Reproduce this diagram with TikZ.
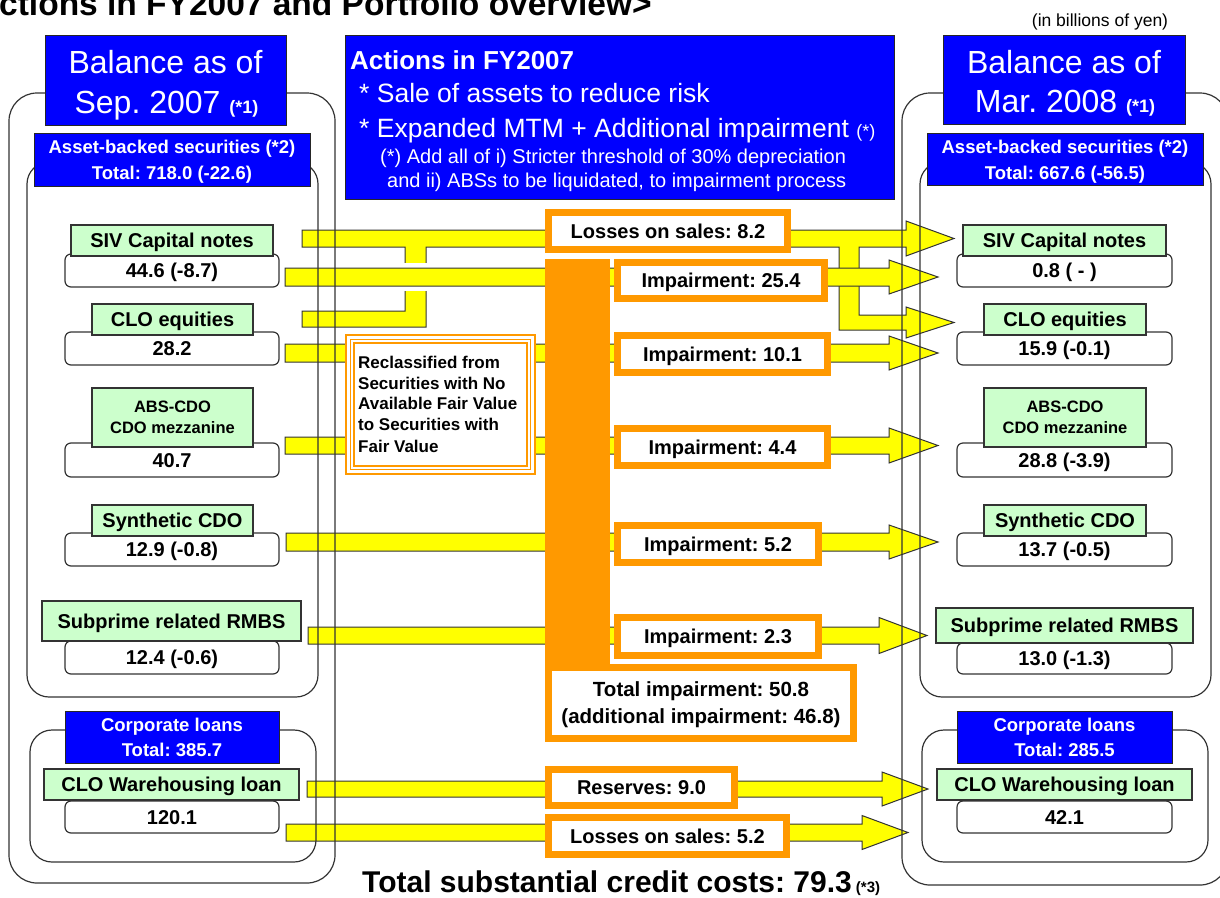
\documentclass[tikz,border=0pt]{standalone}
\usepackage{fontspec}
\setmainfont{Liberation Sans}
\usetikzlibrary{calc}
\frenchspacing
\definecolor{bblue}{HTML}{0000FF}
\definecolor{lgreen}{HTML}{CCFFCC}
\definecolor{orng}{HTML}{FF9900}
\definecolor{yel}{HTML}{FFFF00}
\definecolor{lin}{HTML}{333333}
\newcommand\fs[1]{\fontsize{#1}{#1}\selectfont\frenchspacing}
\newcommand\bxt[7]{\node[#1, minimum width={(#5)-(#3)}, minimum height={(#6)-(#4)}] (#2) at ({((#3)+(#5))/2},{((#4)+(#6))/2}) {#7};}
\newcommand\obx[6]{\bxt{obox}{#1}{(#2)+3.5}{(#3)+3.5}{(#4)-3.5}{(#5)-3.5}{#6}}
\newcommand\yarrow[6]{\filldraw[yarr] (#1,{#2-#5}) -- (#3,{#2-#5}) -- (#3,{#2-#6}) -- (#4,#2) -- (#3,{#2+#6}) -- (#3,{#2+#5}) -- (#1,{#2+#5}) -- cycle;}
\tikzset{
 base/.style={inner sep=0pt, outer sep=0pt},
 vbox/.style={base, draw=lin, line width=1.2pt, fill=white, rounded corners=6pt, font=\fs{20}\bfseries, text height=14.4pt, text depth=0pt},
 gbox/.style={base, draw=lin, line width=1.2pt, fill=lgreen, font=\fs{20}\bfseries, text height=14.4pt, text depth=0pt},
 bbox/.style={base, draw=black!85, line width=1pt, fill=bblue},
 obox/.style={base, draw=orng, line width=7pt, fill=white, font=\fs{20}\bfseries, text height=14.4pt, text depth=0pt},
 frameA/.style={draw=lin, line width=1.2pt, rounded corners=28pt},
 frameB/.style={draw=lin, line width=1.2pt, rounded corners=22pt},
 yarr/.style={fill=yel, draw=lin, line width=1pt},
 tw/.style={anchor=base, inner sep=0pt, text=white},
 tk/.style={anchor=base, inner sep=0pt, text=black},
}
\begin{document}
\begin{tikzpicture}[x=1pt,y=-1pt]
\useasboundingbox (0,0) rectangle (1220,897);

% title and unit
\node[anchor=base west, inner sep=0pt, font=\fs{33.5}\bfseries] (title) at (-1,15) {ctions in FY2007 and Portfolio overview>};
\node[tk, font=\fs{17.5}] (unit) at (1100,26) {(in billions of yen)};

% yellow block arrows
\filldraw[yarr] (302,230) -- (906,230) -- (906,221) -- (954,238.5) -- (906,256) -- (906,247) -- (859,247) -- (859,315) -- (906,315) -- (906,307) -- (954,322.5) -- (906,338) -- (906,330) -- (839,330) -- (839,247) -- (426,247) -- (426,327) -- (302,327) -- (302,311) -- (405,311) -- (405,247) -- (302,247) -- cycle;
\fill[white] (401,263) rectangle (430,291);
\yarrow{285}{277}{889}{938}{9}{17}
\yarrow{285}{353}{889}{938}{9}{17}
\yarrow{285}{445.5}{889}{938}{8.5}{17.5}
\yarrow{286}{542}{889}{938}{9}{17}
\yarrow{308}{635.5}{879}{927}{8.5}{18}
\yarrow{307}{789}{882}{928}{8}{17}
\yarrow{286}{832.5}{862}{908}{8.5}{17}

% column frames
\draw[frameA] (9,93) rectangle (335,883);
\draw[frameB] (27,162) rectangle (318,697);
\draw[frameB] (30,730) rectangle (316,862);
\draw[frameA] (902,93) rectangle (1228,885);
\draw[frameB] (920,162) rectangle (1211,697);
\draw[frameB] (922,730) rectangle (1208,862);

% left headers
\bxt{bbox}{balL}{45}{35}{286}{125}{}
\node[tw, font=\fs{32}] (balL1) at (165.5,73.5) {Balance as of};
\node[tw, font=\fs{32}] (balL2) at (166.5,113.5) {Sep. 2007 {\fs{18}\bfseries(*1)}};
\bxt{bbox}{absL}{34}{133}{310}{186}{}
\node[tw, font=\fs{18.5}\bfseries] (absL1) at (172,153.7) {Asset-backed securities (*2)};
\node[tw, font=\fs{18.5}\bfseries] (absL2) at (172,179.7) {Total: 718.0 (-22.6)};
\bxt{bbox}{corL}{65}{711}{279}{763}{}
\node[tw, font=\fs{18.5}\bfseries] (corL1) at (172,731.7) {Corporate loans};
\node[tw, font=\fs{18.5}\bfseries] (corL2) at (172,756.7) {Total: 385.7};

% right headers
\bxt{bbox}{balR}{943}{35}{1185}{124}{}
\node[tw, font=\fs{32}] (balR1) at (1064,73.5) {Balance as of};
\node[tw, font=\fs{32}] (balR2) at (1065,112) {Mar. 2008 {\fs{18}\bfseries(*1)}};
\bxt{bbox}{absR}{927}{133}{1203}{185}{}
\node[tw, font=\fs{18.5}\bfseries] (absR1) at (1065,153.7) {Asset-backed securities (*2)};
\node[tw, font=\fs{18.5}\bfseries] (absR2) at (1065,179.7) {Total: 667.6 (-56.5)};
\bxt{bbox}{corR}{957}{711}{1172}{763}{}
\node[tw, font=\fs{18.5}\bfseries] (corR1) at (1064.5,731.7) {Corporate loans};
\node[tw, font=\fs{18.5}\bfseries] (corR2) at (1064.5,756.7) {Total: 285.5};

% left items
\bxt{vbox}{v1L}{65}{254}{279}{287}{44.6 (-8.7)}
\bxt{gbox}{g1L}{71}{225}{273}{256}{SIV Capital notes}
\bxt{vbox}{v2L}{65}{332}{279}{365}{28.2}
\bxt{gbox}{g2L}{92}{304}{253}{335}{CLO equities}
\bxt{vbox}{v3L}{65}{443}{279}{477}{40.7}
\bxt{gbox}{g3L}{92}{388}{253}{447}{}
\node[tk, font=\fs{16.5}\bfseries] (g3La) at (172.5,412) {ABS-CDO};
\node[tk, font=\fs{16.5}\bfseries] (g3Lb) at (172.5,433) {CDO mezzanine};
\bxt{vbox}{v4L}{65}{533}{279}{566}{12.9 (-0.8)}
\bxt{gbox}{g4L}{92}{505}{253}{536}{Synthetic CDO}
\bxt{vbox}{v5L}{65}{641}{279}{674}{12.4 (-0.6)}
\bxt{gbox}{g5L}{42}{601}{301}{641}{Subprime related RMBS}
\bxt{vbox}{v6L}{65}{801}{279}{833}{120.1}
\bxt{gbox}{g6L}{44}{769}{299}{800}{CLO Warehousing loan}

% right items
\bxt{vbox}{v1R}{957}{254}{1172}{287}{0.8 ( - )}
\bxt{gbox}{g1R}{963}{225}{1166}{256}{SIV Capital notes}
\bxt{vbox}{v2R}{957}{332}{1172}{365}{15.9 (-0.1)}
\bxt{gbox}{g2R}{984}{304}{1146}{335}{CLO equities}
\bxt{vbox}{v3R}{957}{443}{1172}{477}{28.8 (-3.9)}
\bxt{gbox}{g3R}{984}{388}{1146}{447}{}
\node[tk, font=\fs{16.5}\bfseries] (g3Ra) at (1065,412) {ABS-CDO};
\node[tk, font=\fs{16.5}\bfseries] (g3Rb) at (1065,433) {CDO mezzanine};
\bxt{vbox}{v4R}{957}{533}{1172}{566}{13.7 (-0.5)}
\bxt{gbox}{g4R}{984}{505}{1146}{536}{Synthetic CDO}
\bxt{vbox}{v5R}{957}{643}{1172}{674}{13.0 (-1.3)}
\bxt{gbox}{g5R}{936}{608}{1193}{643}{Subprime related RMBS}
\bxt{vbox}{v6R}{957}{801}{1172}{833}{42.1}
\bxt{gbox}{g6R}{937}{769}{1192}{800}{CLO Warehousing loan}

% orange items
\bxt{base, fill=orng}{obar}{545}{259}{610}{664}{}
\obx{ls1}{545}{209}{791}{253}{Losses on sales: 8.2}
\obx{im1}{614}{259}{828}{302}{Impairment: 25.4}
\obx{im2}{614}{332}{831}{376}{Impairment: 10.1}
\obx{im3}{614}{425}{831}{469}{Impairment: 4.4}
\obx{im4}{614}{522}{822}{566}{Impairment: 5.2}
\obx{im5}{614}{614}{822}{659}{Impairment: 2.3}
\obx{tot}{545}{664}{857}{742}{}
\node[tk, font=\fs{20.5}\bfseries] (tot1) at (701,696.4) {Total impairment: 50.8};
\node[tk, font=\fs{20.5}\bfseries] (tot2) at (701,723.4) {(additional impairment: 46.8)};
\obx{res}{545}{766}{738}{809}{Reserves: 9.0}
\obx{ls2}{545}{814}{790}{858}{Losses on sales: 5.2}

% reclassified box
\bxt{base, draw=orng, line width=2pt, fill=white}{recl}{346}{335}{535}{474}{}
\draw[orng, line width=1.3pt] ($(recl.north west)+(4.5,4.5)$) rectangle ($(recl.south east)+(-4.5,-4.5)$);
\draw[orng, line width=1.3pt] ($(recl.north west)+(8,8)$) rectangle ($(recl.south east)+(-8,-8)$);
\node[tk, anchor=base west, font=\fs{17}\bfseries] (rc1) at (358,368) {Reclassified from};
\node[tk, anchor=base west, font=\fs{17}\bfseries] (rc2) at (358,389) {Securities with No};
\node[tk, anchor=base west, font=\fs{17}\bfseries] (rc3) at (358,409.5) {Available Fair Value};
\node[tk, anchor=base west, font=\fs{17}\bfseries] (rc4) at (358,430) {to Securities with};
\node[tk, anchor=base west, font=\fs{17}\bfseries] (rc5) at (358,452) {Fair Value};

% actions box
\bxt{bbox}{act}{345}{35}{894}{199}{}
\node[tw, anchor=base west, font=\fs{26}\bfseries] (a1) at (350,69.4) {Actions in FY2007};
\node[tw, anchor=base west, font=\fs{26.5}] (a2) at (359,102.5) {* Sale of assets to reduce risk};
\node[tw, anchor=base west, font=\fs{26.5}] (a3) at (359,137.5) {* Expanded MTM + Additional impairment {\fs{18}(*)}};
\node[tw, anchor=base west, font=\fs{20}] (a4) at (380,163.2) {(*) Add all of i) Stricter threshold of 30\% depreciation};
\node[tw, anchor=base west, font=\fs{20}] (a5) at (387,187.2) {and ii) ABSs to be liquidated, to impairment process};

% total credit costs
\node[tk, anchor=base west, font=\fs{30}\bfseries] (tcc) at (362,892) {Total substantial credit costs: 79.3{\fs{15} (*3)}};
\end{tikzpicture}
\end{document}
